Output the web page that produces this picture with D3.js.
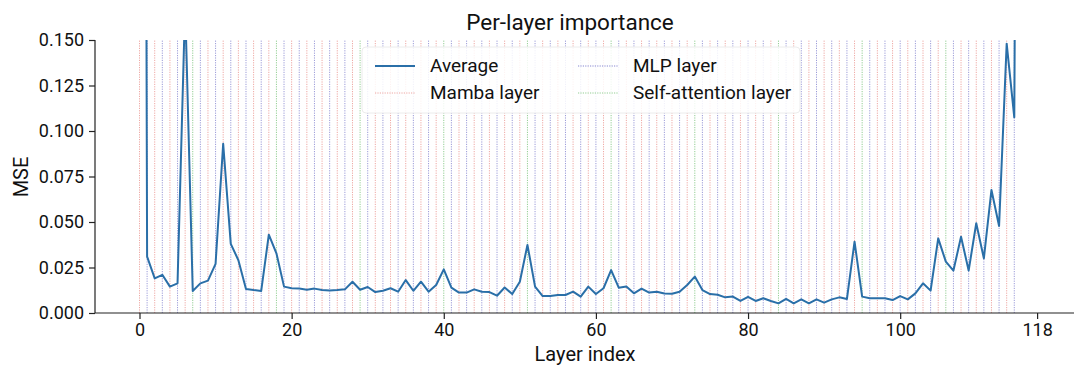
<!DOCTYPE html>
<html><head><meta charset="utf-8">
<script src="https://cdn.jsdelivr.net/npm/d3@7"></script>
<style>
html,body{margin:0;padding:0;background:#fff;}
svg{display:block;font-family:Roboto,"Noto Sans",sans-serif;}
</style></head>
<body><svg id="chart" width="1080" height="368"></svg>
<script>
// Layer type pattern: M = Mamba, - = MLP, * = Self-attention
const layerPattern = "M-M-M-M*-" + "M-M-M-M-M*-M-M-M-M-M*-M-M-M-M-M*-M-M-M-M-M*-M-M-M-M-M*-M-M-M-M-M*-M-M-M-M-M*-M-M-M-M-M*-M-M-M-M-M*-M-M-M-M-";
const layerIndex = d3.range(118);
const avgMSE = [
 1.5, 0.031, 0.019, 0.021, 0.0145, 0.0163, 0.17, 0.0121, 0.0163, 0.0178,
 0.027, 0.093, 0.038, 0.029, 0.0132, 0.0126, 0.0121, 0.043, 0.0328, 0.0145,
 0.0136, 0.0134, 0.0128, 0.0134, 0.0126, 0.0124, 0.0126, 0.013, 0.0172, 0.0128,
 0.0143, 0.0115, 0.0122, 0.0136, 0.0117, 0.0181, 0.0122, 0.0172, 0.0117, 0.0154,
 0.024, 0.0139, 0.0112, 0.0112, 0.013, 0.0117, 0.0115, 0.0095, 0.014, 0.0104,
 0.0172, 0.0374, 0.0145, 0.0093, 0.0093, 0.0099, 0.0099, 0.0117, 0.009, 0.0145,
 0.0104, 0.0136, 0.0236, 0.0139, 0.0145, 0.0108, 0.0134, 0.0112, 0.0117, 0.0107,
 0.0106, 0.0117, 0.0154, 0.020, 0.0126, 0.0104, 0.010, 0.0086, 0.009, 0.0066,
 0.0088, 0.0066, 0.0081, 0.0066, 0.0053, 0.0077, 0.0053, 0.0075, 0.0053, 0.0075,
 0.0057, 0.0075, 0.0086, 0.0077, 0.0392, 0.009, 0.0081, 0.0081, 0.0081, 0.0071,
 0.0093, 0.0075, 0.0108, 0.0163, 0.0123, 0.041, 0.0282, 0.0233, 0.0419, 0.0233,
 0.0493, 0.030, 0.0676, 0.0478, 0.148, 0.1075, 0.9, 1.2
];
const xTicks = [0, 20, 40, 60, 80, 100, 118];
const yTicks = [0, 0.025, 0.05, 0.075, 0.1, 0.125, 0.15];
const legendLabels = ["Average", "Mamba layer", "MLP layer", "Self-attention layer"];
const typeColors = {"M": "#e0605a", "-": "#4848b8", "*": "#3aa63a"};

const svg = d3.select("#chart");
const x = d3.scaleLinear().domain([-5.85, 122.85]).range([95, 1074]);
const y = d3.scaleLinear().domain([0, 0.15]).range([313, 40]);

svg.append("defs").append("clipPath").attr("id","clip")
  .append("rect").attr("x",95).attr("y",40).attr("width",979).attr("height",273);

const plot = svg.append("g").attr("clip-path","url(#clip)");
// layer type vertical lines
plot.selectAll("line.layer").data(layerIndex).join("line")
  .attr("class","layer")
  .attr("x1", d => x(d)).attr("x2", d => x(d))
  .attr("y1", y(0)).attr("y2", y(0.15))
  .attr("stroke", d => typeColors[layerPattern[d]])
  .attr("stroke-opacity", 0.55)
  .attr("stroke-width", 1)
  .attr("stroke-dasharray", "1.2,1.2");

// average line
plot.append("path").datum(layerIndex)
  .attr("fill","none").attr("stroke","#2a6fa8").attr("stroke-width",2)
  .attr("stroke-linejoin","round")
  .attr("d", d3.line().x(d => x(d)).y(d => y(avgMSE[d])));

// axes
const xAxis = svg.append("g").attr("transform","translate(0,313)")
  .call(d3.axisBottom(x).tickValues(xTicks).tickFormat(d3.format("d")).tickSizeOuter(0).tickSize(6).tickPadding(4));
const yAxis = svg.append("g").attr("transform","translate(95,0)")
  .call(d3.axisLeft(y).tickValues(yTicks).tickFormat(d3.format(".3f")).tickSizeOuter(0).tickSize(6).tickPadding(5));
[xAxis, yAxis].forEach(a => {
  a.selectAll("text").attr("font-size", 18).attr("fill","#111").attr("font-family","Roboto, sans-serif");
  a.select(".domain").attr("stroke","#222").attr("stroke-width",1.2);
  a.selectAll(".tick line").attr("stroke","#222").attr("stroke-width",1.2);
});
xAxis.select(".domain").attr("d","M95,0H1074");
yAxis.select(".domain").attr("d","M0,313V40");

svg.append("text").attr("x",570).attr("y",30).attr("text-anchor","middle")
  .attr("font-size",22.5).attr("fill","#111").text("Per-layer importance");
svg.append("text").attr("x",585).attr("y",361).attr("text-anchor","middle")
  .attr("font-size",20).attr("fill","#111").text("Layer index");
svg.append("text").attr("transform","translate(28,177) rotate(-90)").attr("text-anchor","middle")
  .attr("font-size",20).attr("fill","#111").text("MSE");

// legend
const lg = svg.append("g");
lg.append("rect").attr("x",362).attr("y",47).attr("width",438).attr("height",66).attr("rx",4)
  .attr("fill","#fff").attr("fill-opacity",0.85).attr("stroke","#ececec");
const legendItems = [
  {label: legendLabels[0], col: 0, row: 0, color: "#2a6fa8", dash: null, w: 2, op: 1},
  {label: legendLabels[1], col: 0, row: 1, color: typeColors["M"], dash: "1.2,1.2", w: 1, op: 0.55},
  {label: legendLabels[2], col: 1, row: 0, color: typeColors["-"], dash: "1.2,1.2", w: 1, op: 0.65},
  {label: legendLabels[3], col: 1, row: 1, color: typeColors["*"], dash: "1.2,1.2", w: 1, op: 0.55}
];
legendItems.forEach(it => {
  const gx = it.col === 0 ? 375 : 578, gy = 66 + it.row * 27;
  lg.append("line").attr("x1",gx).attr("x2",gx+40).attr("y1",gy).attr("y2",gy)
    .attr("stroke",it.color).attr("stroke-width",it.w).attr("stroke-opacity",it.op)
    .attr("stroke-dasharray",it.dash);
  lg.append("text").attr("x",gx+55).attr("y",gy+6).attr("font-size",19).attr("fill","#111").text(it.label);
});
</script></body></html>
